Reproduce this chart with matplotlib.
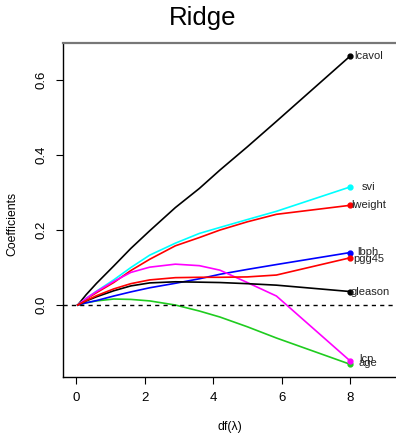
import matplotlib
matplotlib.use("Agg")
import matplotlib.pyplot as plt

plt.rcParams['font.family'] = ['Liberation Sans', 'DejaVu Sans']

# grados de libertad efectivos df(lambda) donde se leen los coeficientes
df_lambda = [0.05, 0.3, 0.6, 1.1, 1.6, 2.15, 2.9, 3.6, 4.2, 5.0, 5.85, 8.0]

# coeficientes ridge por variable
lcavol = [0.0, 0.028, 0.058, 0.104, 0.151, 0.198, 0.26, 0.311, 0.36, 0.422, 0.49, 0.664]
lweight = [0.0, 0.016, 0.033, 0.06, 0.092, 0.122, 0.158, 0.18, 0.2, 0.222, 0.242, 0.266]
age = [0.0, 0.006, 0.011, 0.016, 0.015, 0.011, 0.0, -0.016, -0.032, -0.058, -0.088, -0.158]
lbph = [0.0, 0.006, 0.012, 0.024, 0.035, 0.046, 0.058, 0.07, 0.082, 0.095, 0.108, 0.14]
svi = [0.0, 0.018, 0.037, 0.067, 0.1, 0.133, 0.165, 0.191, 0.207, 0.228, 0.25, 0.315]
lcp = [0.0, 0.018, 0.036, 0.063, 0.087, 0.101, 0.109, 0.105, 0.093, 0.06, 0.024, -0.149]
gleason = [0.0, 0.011, 0.022, 0.038, 0.051, 0.059, 0.062, 0.061, 0.06, 0.057, 0.053, 0.036]
pgg45 = [0.0, 0.012, 0.025, 0.043, 0.057, 0.067, 0.073, 0.074, 0.074, 0.075, 0.08, 0.126]

nombres = ['lcavol', 'lweight', 'age', 'lbph', 'svi', 'lcp', 'gleason', 'pgg45']
series = [lcavol, lweight, age, lbph, svi, lcp, gleason, pgg45]
colores = ['black', 'red', '#1FCC1F', 'blue', 'cyan', 'magenta', 'black', 'red']
# corrimiento (en pixeles) de cada etiqueta respecto al punto final
desfase = [(4, 0), (1, 0), (8, 1), (7, 1), (12, 0), (9, 2), (0, 0), (3, -1)]

fig = plt.figure(figsize=(3.96, 4.34), dpi=100)
ax = fig.add_axes([63 / 396, 57 / 434, 333 / 396, 334 / 434])

for nom, coef, col, (dx, dy) in zip(nombres, series, colores, desfase):
    ax.plot(df_lambda, coef, color=col, lw=1.2)
    ax.plot(df_lambda[-1], coef[-1], 'o', color=col, markersize=3.5)
    ax.annotate(nom, (df_lambda[-1], coef[-1]), xytext=(dx * 0.72, dy * 0.72),
                textcoords='offset points', fontsize=8, color='#222222',
                ha='left', va='center')

ax.axhline(0, color='black', lw=1, ls=(0, (3, 3)))

ax.set_xlim(-0.38, 9.34)
ax.set_ylim(-0.192, 0.699)
ax.set_xticks([0, 2, 4, 6, 8])
ax.set_yticks([0.0, 0.2, 0.4, 0.6])
ax.set_yticklabels(['0.0', '0.2', '0.4', '0.6'], rotation=90, va='center')
ax.tick_params(axis='both', direction='out', length=5, width=0.8, labelsize=9.5, pad=6)
ax.spines['right'].set_visible(False)
ax.spines['top'].set_color('#777777')
ax.spines['top'].set_linewidth(1.6)
for lado in ['left', 'bottom']:
    ax.spines[lado].set_linewidth(1.0)

fig.text(203 / 396, 1 - 18 / 434, 'Ridge', fontsize=18.5, ha='center', va='center')
fig.text(12 / 396, 210 / 434, 'Coefficients', fontsize=8.8, rotation=90, ha='center', va='center')
fig.text(230 / 396, 1 - 427 / 434, 'df(λ)', fontsize=8.8, ha='center', va='center')

fig.savefig('out.png', dpi=100)
